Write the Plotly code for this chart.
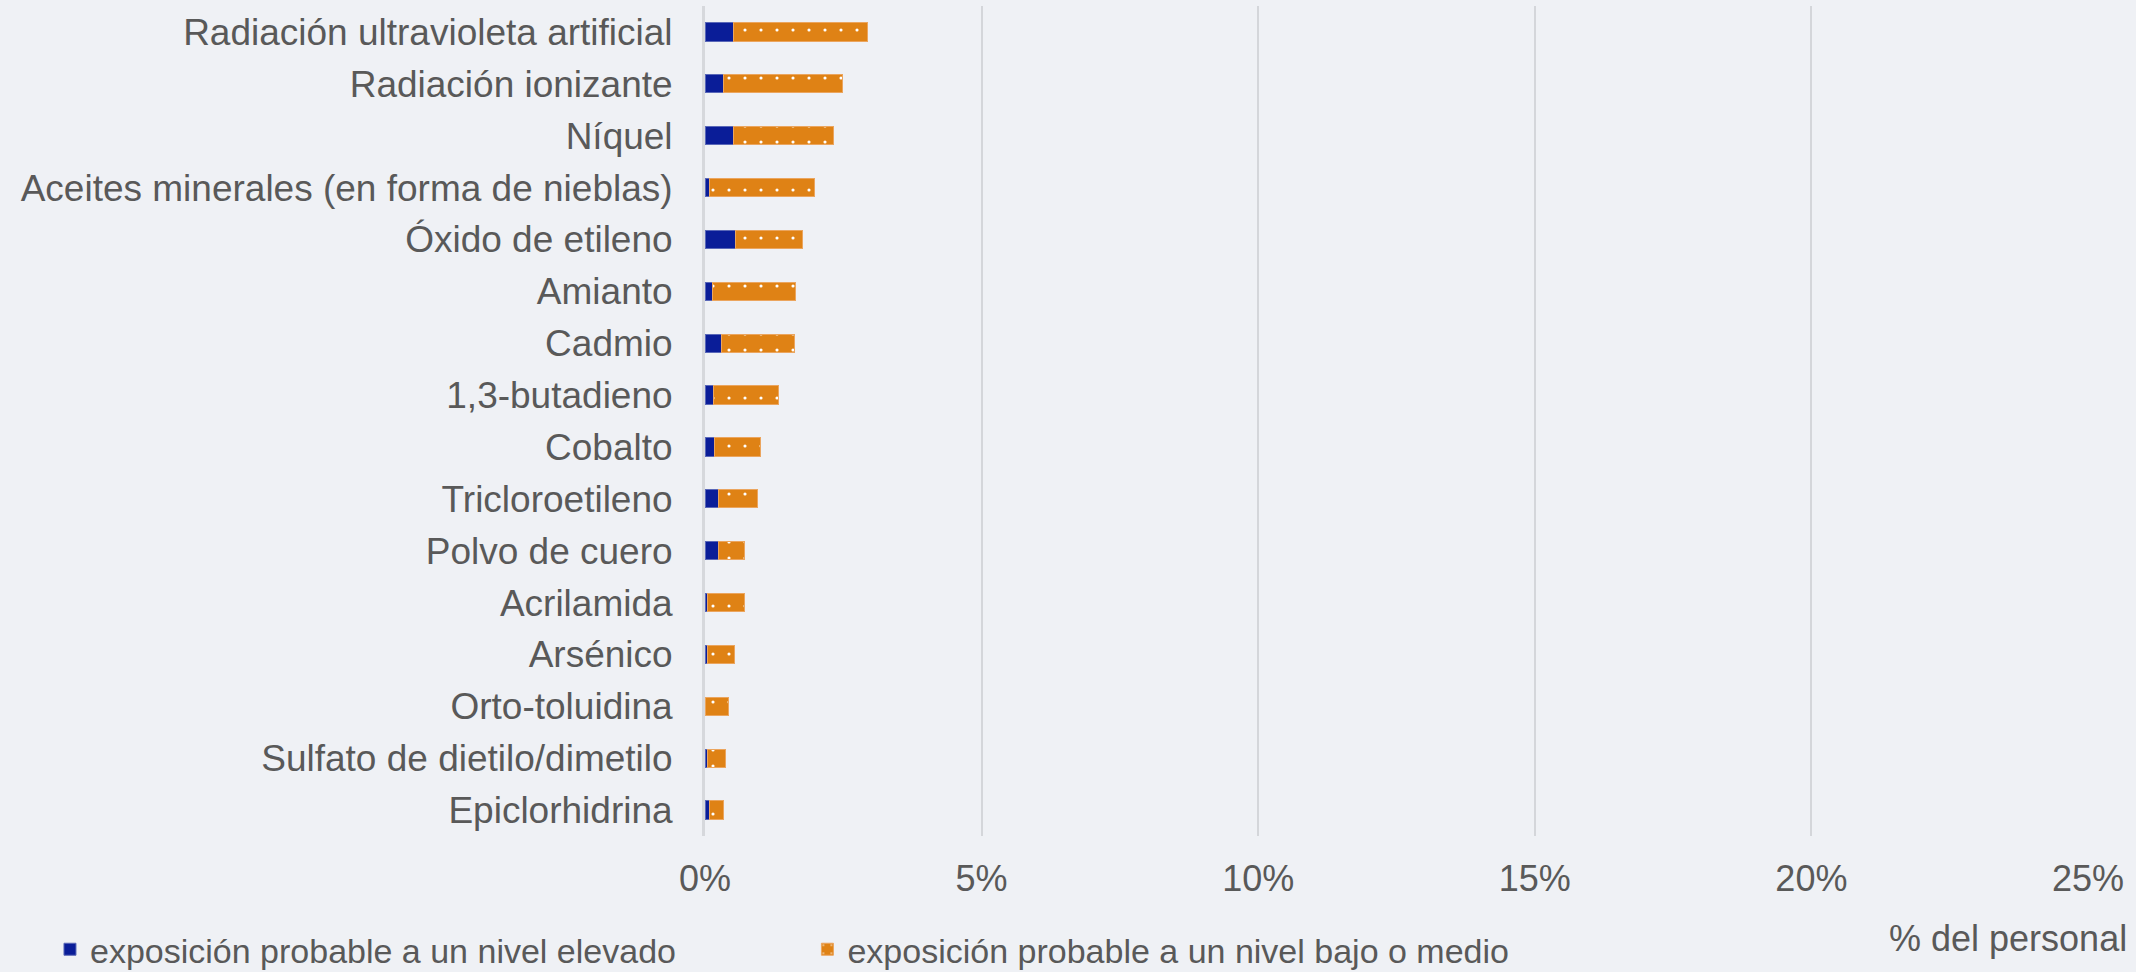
import plotly.graph_objects as go

categories = [
    "Radiación ultravioleta artificial",
    "Radiación ionizante",
    "Níquel",
    "Aceites minerales (en forma de nieblas)",
    "Óxido de etileno",
    "Amianto",
    "Cadmio",
    "1,3-butadieno",
    "Cobalto",
    "Tricloroetileno",
    "Polvo de cuero",
    "Acrilamida",
    "Arsénico",
    "Orto-toluidina",
    "Sulfato de dietilo/dimetilo",
    "Epiclorhidrina",
]
high_level = [0.51, 0.34, 0.51, 0.09, 0.56, 0.13, 0.30, 0.16, 0.18, 0.25, 0.24, 0.05, 0.04, 0.01, 0.05, 0.09]
low_medium = [2.42, 2.14, 1.81, 1.89, 1.20, 1.51, 1.32, 1.17, 0.83, 0.69, 0.48, 0.67, 0.49, 0.42, 0.32, 0.25]
series_names = ["exposición probable a un nivel elevado", "exposición probable a un nivel bajo o medio"]
tick_vals = [0, 5, 10, 15, 20, 25]
tick_text = ["0%", "5%", "10%", "15%", "20%", "25%"]
axis_title = "% del personal"

FONT = "Liberation Sans, Arial, sans-serif"
TXT = "#595959"
BLUE = "#0a1d98"
ORANGE = "#df8215"
BG = "#eff1f5"

fig = go.Figure()
fig.add_trace(go.Bar(
    y=categories, x=high_level, orientation="h", name=series_names[0],
    legend="legend",
    marker=dict(color=BLUE, line=dict(color="#5a68b8", width=1)),
))
fig.add_trace(go.Bar(
    y=categories, x=low_medium, orientation="h", name=series_names[1],
    legend="legend2",
    marker=dict(color=ORANGE, line=dict(color="#eba55e", width=1),
                pattern=dict(shape=".", fgcolor="white", bgcolor=ORANGE,
                             size=16, solidity=0.03, fillmode="replace")),
))

legend_common = dict(orientation="h", xref="container", yref="container",
                     y=0.023, xanchor="left", yanchor="middle",
                     font=dict(family=FONT, size=34, color=TXT),
                     itemclick=False, bgcolor="rgba(0,0,0,0)")

fig.update_layout(
    width=2136, height=972,
    barmode="stack", bargap=0.65,
    paper_bgcolor=BG, plot_bgcolor="rgba(0,0,0,0)",
    margin=dict(l=705, r=48, t=6, b=136, autoexpand=False),
    font=dict(family=FONT, size=36, color=TXT),
    showlegend=True,
    legend=dict(x=0.0234, **legend_common),
    legend2=dict(x=0.378, **legend_common),
    xaxis=dict(range=[0, 25], tickvals=tick_vals, ticktext=tick_text,
               showgrid=True, gridcolor="#d4d6da", gridwidth=1.5,
               zeroline=False, showline=False, ticks="",
               ticklabelstandoff=18, automargin=False,
               tickfont=dict(family=FONT, size=36, color=TXT)),
    yaxis=dict(autorange="reversed", showgrid=False, ticks="",
               showline=True, linecolor="#d6d8dc", linewidth=3,
               ticklabelstandoff=22, automargin=False,
               tickfont=dict(family=FONT, size=37, color=TXT)),
    annotations=[dict(text=axis_title, xref="paper", yref="paper",
                      x=1.0296, y=-0.123, xanchor="right", yanchor="middle",
                      showarrow=False, font=dict(family=FONT, size=36, color=TXT))],
)

fig.write_html("out.html", config={"displayModeBar": False},
               post_script="document.body.style.margin='0';document.body.style.background='%s';" % BG)
